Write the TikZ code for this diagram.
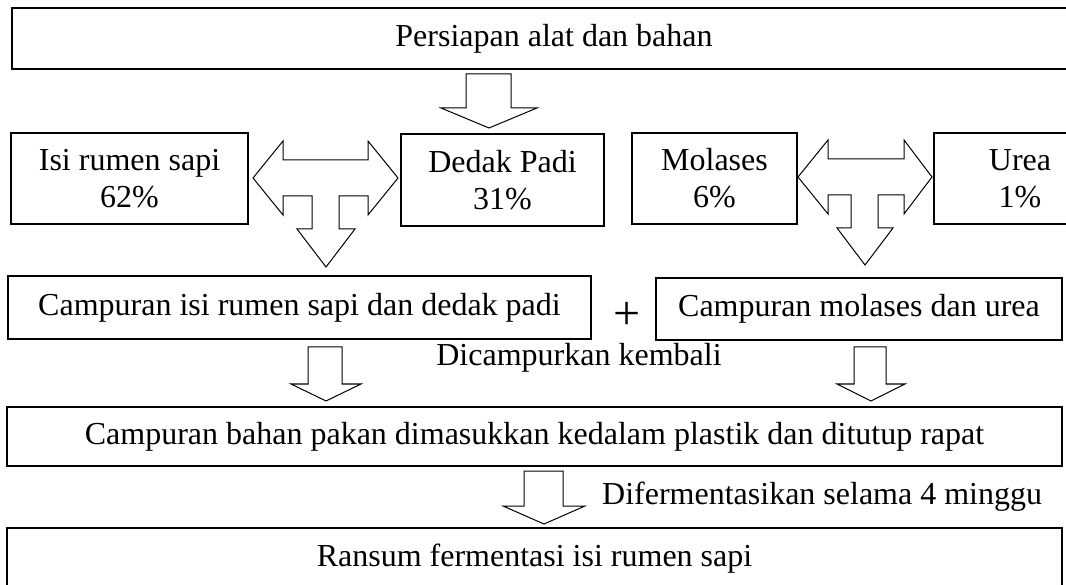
\documentclass[tikz,border=0pt]{standalone}
\usepackage{fontspec}
\setmainfont{Liberation Serif}

\begin{document}
\begin{tikzpicture}[x=1pt,y=-1pt,
    box/.style={draw,line width=1.6pt,inner sep=0pt,align=center,font=\fontsize{32}{37}\selectfont},
    label/.style={inner sep=0pt,font=\fontsize{32}{37}\selectfont},
    blok/.style={draw,line width=1pt,line join=miter}]
    \useasboundingbox (0,0) rectangle (1066,585);
    % kotak
    \node[box,minimum width=1084pt,minimum height=61pt] (alat) at (554,38.5) {Persiapan alat dan bahan};
    \node[box,minimum width=237pt,minimum height=91pt] (isi) at (129.5,178.5) {Isi rumen sapi\\62\%};
    \node[box,minimum width=203pt,minimum height=92pt] (dedak) at (502.5,180) {Dedak Padi\\31\%};
    \node[box,minimum width=165pt,minimum height=91pt] (molases) at (714.5,178.5) {Molases\\6\%};
    \node[box,minimum width=172pt,minimum height=91pt] (urea) at (1020,178.5) {Urea\\1\%};
    \node[box,minimum width=583pt,minimum height=63pt] (campur1) at (299.5,307.5) {Campuran isi rumen sapi dan dedak padi};
    \node[label] (plus) at (627,316) {\fontsize{48}{48}\selectfont +};
    \node[box,minimum width=406pt,minimum height=62pt] (campur2) at (859,309) {Campuran molases dan urea};
    \node[box,minimum width=1055pt,minimum height=59pt] (plastik) at (534.5,436.5) {Campuran bahan pakan dimasukkan kedalam plastik dan ditutup rapat};
    \node[box,minimum width=1055pt,minimum height=62pt] (ransum) at (534.5,559) {Ransum fermentasi isi rumen sapi};
    \node[label] (kembali) at (579,358) {Dicampurkan kembali};
    \node[label,anchor=west] (fermen) at (602,497) {Difermentasikan selama 4 minggu};
    % panah
    \draw[blok] (466,74) -- (511,74) -- (511,108) -- (537,108) -- (489,128) -- (441,108) -- (466,108) -- cycle;
    \draw[blok] (253,178) -- (283,141) -- (283,160) -- (368,160) -- (368,141) -- (398,178) -- (368,215)
        -- (368,196) -- (339,196) -- (339,229) -- (355,229) -- (326,267) -- (297,229) -- (312,229)
        -- (312,196) -- (283,196) -- (283,215) -- cycle;
    \draw[blok] (798,177) -- (828,140) -- (828,159) -- (904,159) -- (904,140) -- (932,177) -- (904,214)
        -- (904,195) -- (878,195) -- (878,228) -- (893,228) -- (865,265) -- (837,228) -- (851,228)
        -- (851,195) -- (828,195) -- (828,214) -- cycle;
    \draw[blok] (308,347) -- (342,347) -- (342,384) -- (361,384) -- (326,401) -- (291,384) -- (308,384) -- cycle;
    \draw[blok] (854,347) -- (886,347) -- (886,384) -- (905,384) -- (871,401) -- (837,384) -- (854,384) -- cycle;
    \draw[blok] (524,471) -- (563,471) -- (563,506) -- (585,506) -- (544,524) -- (503,506) -- (524,506) -- cycle;
\end{tikzpicture}
\end{document}
